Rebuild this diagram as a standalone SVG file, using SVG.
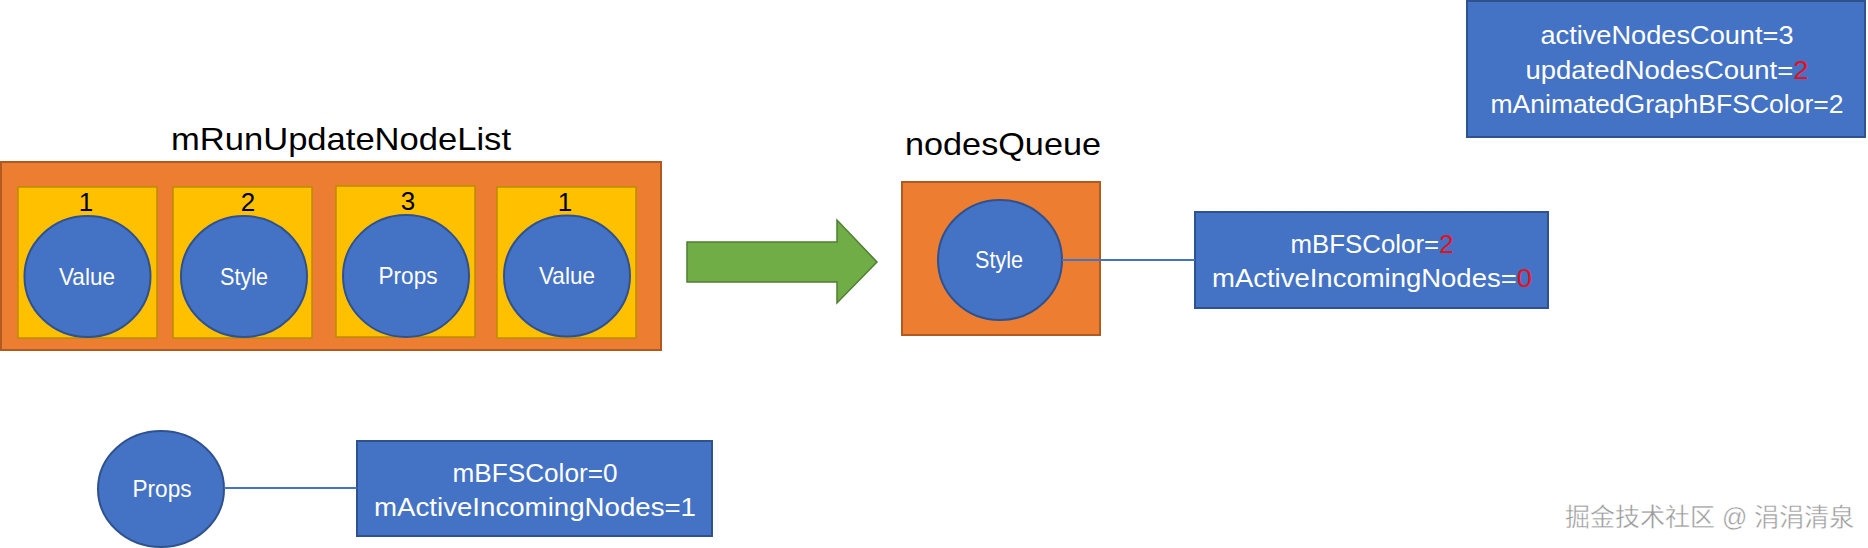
<svg xmlns="http://www.w3.org/2000/svg" width="1868" height="548" viewBox="0 0 1868 548">
<style>
.orange{fill:#ED7D31;stroke:#AE5A21;stroke-width:2}
.yellow{fill:#FFC000;stroke:#BC8C00;stroke-width:1.5}
.blue{fill:#4472C4;stroke:#2F528F;stroke-width:2}
.title{font-family:"Liberation Sans",Arial,sans-serif;font-size:32px;fill:#000;text-anchor:middle}
.num{font-family:"Liberation Sans",Arial,sans-serif;font-size:26px;fill:#000;text-anchor:middle}
.lbl{font-family:"Liberation Sans",Arial,sans-serif;font-size:24px;fill:#fff;text-anchor:middle}
.info{font-family:"Liberation Sans",Arial,sans-serif;font-size:25px;fill:#fff;text-anchor:middle}
.red{fill:#E8101A}
.conn{stroke:#4472C4;stroke-width:2;fill:none}
.wm{font-family:"Liberation Sans","Noto Sans CJK SC",sans-serif;font-size:25px;fill:#9a9a9a;stroke:#ffffff;stroke-width:0.4}
</style>
<rect width="1868" height="548" fill="#ffffff"/>

<g id="runUpdateNodeList">
  <text class="title" x="341" y="150" textLength="340" lengthAdjust="spacingAndGlyphs">mRunUpdateNodeList</text>
  <rect class="orange" x="1" y="162" width="660" height="188"/>
</g>

<g id="cell1">
  <rect class="yellow" x="18" y="187" width="139" height="151"/>
  <text class="num" x="86" y="211">1</text>
</g>
<g id="cell2">
  <rect class="yellow" x="173" y="187" width="139" height="151"/>
  <text class="num" x="248" y="211">2</text>
</g>
<g id="cell3">
  <rect class="yellow" x="336" y="186" width="139" height="151"/>
  <text class="num" x="408" y="210">3</text>
</g>
<g id="cell4">
  <rect class="yellow" x="497" y="187" width="139" height="151"/>
  <text class="num" x="565" y="211">1</text>
</g>

<g id="node-value1">
  <ellipse class="blue" cx="87.5" cy="276.5" rx="63" ry="60.5"/>
  <text class="lbl" x="87" y="285" textLength="56" lengthAdjust="spacingAndGlyphs">Value</text>
</g>
<g id="node-style1">
  <ellipse class="blue" cx="244" cy="276.5" rx="63" ry="60.5"/>
  <text class="lbl" x="244" y="285" textLength="48" lengthAdjust="spacingAndGlyphs">Style</text>
</g>
<g id="node-props1">
  <ellipse class="blue" cx="406" cy="276" rx="63" ry="61"/>
  <text class="lbl" x="408" y="284" textLength="59" lengthAdjust="spacingAndGlyphs">Props</text>
</g>
<g id="node-value2">
  <ellipse class="blue" cx="567" cy="276" rx="63" ry="60.5"/>
  <text class="lbl" x="567" y="284" textLength="56" lengthAdjust="spacingAndGlyphs">Value</text>
</g>

<g id="nodesQueue">
  <text class="title" x="1003" y="155" textLength="196" lengthAdjust="spacingAndGlyphs">nodesQueue</text>
  <rect class="orange" x="902" y="182" width="198" height="153"/>
</g>
<g id="node-style-queue">
  <ellipse class="blue" cx="1000" cy="260" rx="62" ry="60"/>
  <text class="lbl" x="999" y="268" textLength="48" lengthAdjust="spacingAndGlyphs">Style</text>
</g>

<g id="info-style">
  <rect class="blue" x="1195" y="212" width="353" height="96"/>
  <text class="info" x="1372" y="253" textLength="163" lengthAdjust="spacingAndGlyphs">mBFSColor=<tspan class="red">2</tspan></text>
  <text class="info" x="1372" y="287" textLength="320" lengthAdjust="spacingAndGlyphs">mActiveIncomingNodes=<tspan class="red">0</tspan></text>
</g>

<g id="info-global">
  <rect class="blue" x="1467" y="1" width="398" height="136"/>
  <text class="info" x="1667" y="44" textLength="253" lengthAdjust="spacingAndGlyphs">activeNodesCount=3</text>
  <text class="info" x="1667" y="79" textLength="283" lengthAdjust="spacingAndGlyphs">updatedNodesCount=<tspan class="red">2</tspan></text>
  <text class="info" x="1667" y="113" textLength="353" lengthAdjust="spacingAndGlyphs">mAnimatedGraphBFSColor=2</text>
</g>

<g id="node-props-bottom">
  <ellipse class="blue" cx="161" cy="489" rx="63" ry="58"/>
  <text class="lbl" x="162" y="497" textLength="59" lengthAdjust="spacingAndGlyphs">Props</text>
</g>
<g id="info-props">
  <rect class="blue" x="357" y="441" width="355" height="95"/>
  <text class="info" x="535" y="482" textLength="165" lengthAdjust="spacingAndGlyphs">mBFSColor=0</text>
  <text class="info" x="535" y="516" textLength="322" lengthAdjust="spacingAndGlyphs">mActiveIncomingNodes=1</text>
</g>

<g id="connectors">
  <polygon points="687,242 837,242 837,220 877,262 837,303 837,282 687,282" fill="#70AD47" stroke="#507E32" stroke-width="1.5"/>
  <line class="conn" x1="1062" y1="260" x2="1195" y2="260"/>
  <line class="conn" x1="224" y1="488" x2="357" y2="488"/>
</g>

<text class="wm" x="1565" y="526">掘金技术社区 @ 涓涓清泉</text>
</svg>
